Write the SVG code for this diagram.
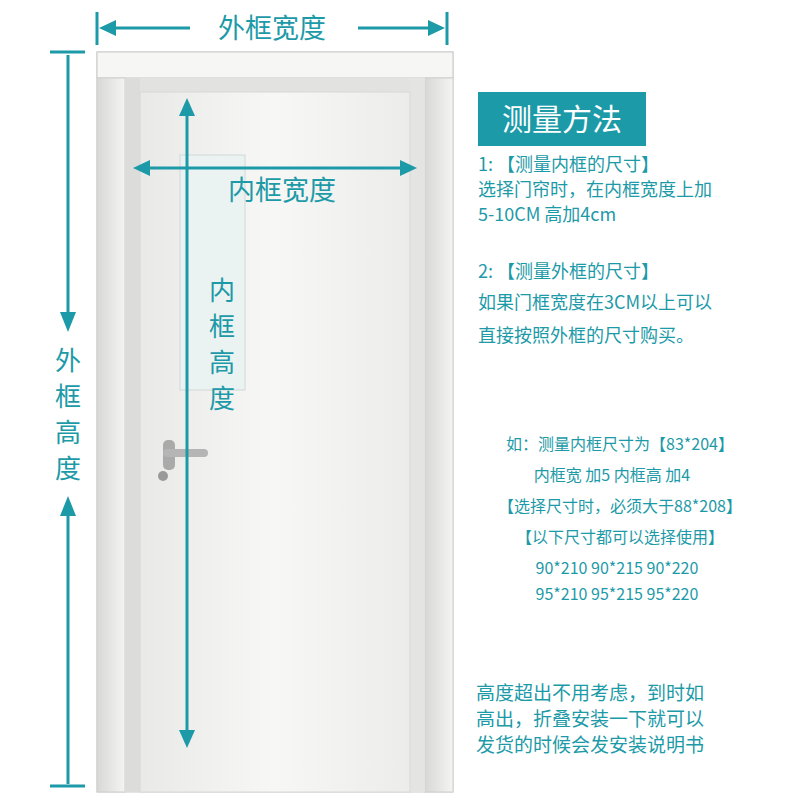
<svg xmlns="http://www.w3.org/2000/svg" width="800" height="800" viewBox="0 0 800 800">
<defs>
<style>
.t{fill:#1d9aa8;font-family:"Noto Sans CJK SC","Noto Sans",sans-serif;white-space:pre}
.a{stroke:#1d9aa8;stroke-width:3;fill:none}
.h{fill:#1d9aa8}
</style>
<linearGradient id="door" x1="0" x2="1"><stop offset="0" stop-color="#e9e9e7"/><stop offset="0.5" stop-color="#f7f7f5"/><stop offset="1" stop-color="#ececea"/></linearGradient>
<linearGradient id="jamb" x1="0" x2="1"><stop offset="0" stop-color="#d8d8d6"/><stop offset="1" stop-color="#f4f4f2"/></linearGradient>
</defs>
<rect width="800" height="800" fill="#fff"/>
<g id="door-frame">
<rect x="97" y="52" width="356" height="740" fill="#efefed" stroke="#c9c9c7"/>
<rect x="97" y="52" width="356" height="26" fill="#f6f6f4" stroke="#c9c9c7"/>
<rect x="97" y="78" width="28" height="714" fill="url(#jamb)" stroke="#cfcfcd"/>
<rect x="425" y="78" width="28" height="714" fill="url(#jamb)" stroke="#cfcfcd"/>
<polygon points="125,78 425,78 410,92 140,92" fill="#e2e2e0"/>
<rect x="125" y="78" width="15" height="714" fill="#dcdcda"/>
<rect x="410" y="78" width="15" height="714" fill="#e4e4e2"/>
<rect x="140" y="92" width="270" height="700" fill="url(#door)" stroke="#d8d8d6"/>
<rect x="180" y="155" width="65" height="235" fill="#eaf3f2" stroke="#d0d8d8"/>
<rect x="163" y="440" width="12" height="30" rx="5" fill="#aaa"/>
<rect x="163" y="449" width="45" height="8" rx="4" fill="#b5b5b5"/>
<circle cx="163" cy="476" r="5" fill="#999"/>
</g>
<g id="connectors">
<line x1="97" y1="12" x2="97" y2="45" class="a"/>
<line x1="447" y1="12" x2="447" y2="45" class="a"/>
<line x1="110" y1="28" x2="190" y2="28" class="a"/>
<polygon class="h" points="99,28 116,20 116,36"/>
<line x1="358" y1="28" x2="435" y2="28" class="a"/>
<polygon class="h" points="445,28 428,20 428,36"/>
<line x1="50" y1="52" x2="85" y2="52" class="a"/>
<line x1="50" y1="786" x2="85" y2="786" class="a"/>
<line x1="68" y1="55" x2="68" y2="320" class="a"/>
<polygon class="h" points="68,332 60,312 76,312"/>
<line x1="68" y1="510" x2="68" y2="784" class="a"/>
<polygon class="h" points="68,496 60,516 76,516"/>
<line x1="145" y1="168" x2="405" y2="168" class="a"/>
<polygon class="h" points="133,168 150,160 150,176"/>
<polygon class="h" points="417,168 400,160 400,176"/>
<line x1="187" y1="110" x2="187" y2="735" class="a"/>
<polygon class="h" points="187,98 179,116 195,116"/>
<polygon class="h" points="187,748 179,730 195,730"/>
</g>
<g id="labels">
<text x="272" y="38" class="t" font-size="27" text-anchor="middle">外框宽度</text>
<text x="282" y="200" class="t" font-size="27" text-anchor="middle">内框宽度</text>
<g class="t" font-size="26" text-anchor="middle">
<text x="222" y="300">内</text><text x="222" y="336">框</text><text x="222" y="372">高</text><text x="222" y="408">度</text>
<text x="68" y="370">外</text><text x="68" y="406">框</text><text x="68" y="442">高</text><text x="68" y="478">度</text>
</g>
</g>
<g id="method">
<rect x="478" y="92" width="168" height="54" fill="#1d9aa8"/>
<text x="562" y="130" font-size="30" fill="#fff" font-family="Noto Sans CJK SC,sans-serif" text-anchor="middle">测量方法</text>
<g class="t" font-size="18">
<text x="478" y="171">1:  【测量内框的尺寸】</text>
<text x="478" y="196">选择门帘时，在内框宽度上加</text>
<text x="478" y="221">5-10CM  高加4cm</text>
<text x="478" y="278">2:  【测量外框的尺寸】</text>
<text x="478" y="309">如果门框宽度在3CM以上可以</text>
<text x="478" y="342">直接按照外框的尺寸购买。</text>
</g>
<g class="t" font-size="16" text-anchor="middle">
<text x="620" y="450">如：测量内框尺寸为【83*204】</text>
<text x="612" y="481">内框宽 加5    内框高 加4</text>
<text x="620" y="512">【选择尺寸时，必须大于88*208】</text>
<text x="620" y="543">【以下尺寸都可以选择使用】</text>
<text x="617" y="574">90*210  90*215  90*220</text>
<text x="617" y="600">95*210  95*215  95*220</text>
</g>
<g class="t" font-size="19">
<text x="476" y="700">高度超出不用考虑，到时如</text>
<text x="476" y="726">高出，折叠安装一下就可以</text>
<text x="476" y="752">发货的时候会发安装说明书</text>
</g>
</g>
</svg>
